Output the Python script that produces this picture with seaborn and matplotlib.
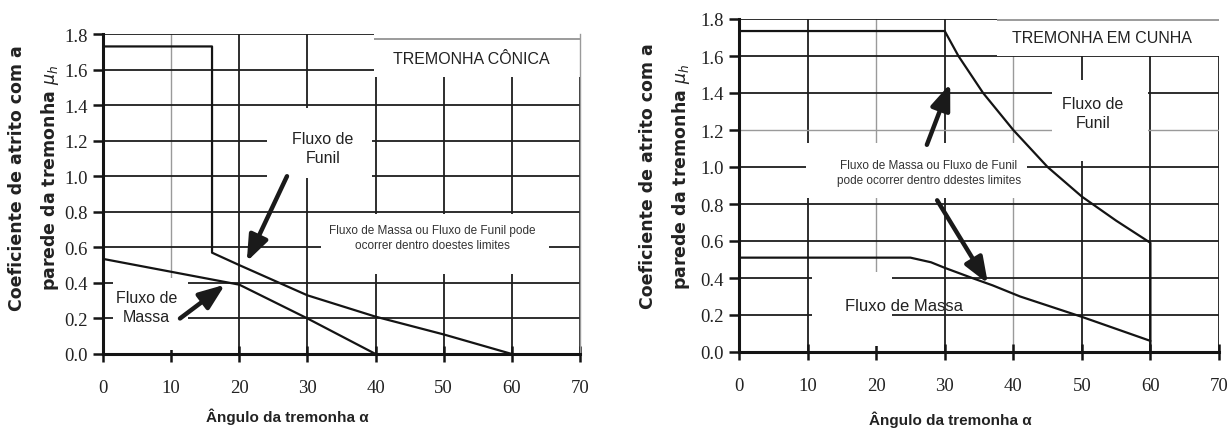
import matplotlib
matplotlib.use("Agg")
import matplotlib.pyplot as plt
from matplotlib.patches import Rectangle
import seaborn as sns
import numpy as np

# ---------------- data ----------------
x_ticks = [0, 10, 20, 30, 40, 50, 60, 70]
y_ticks = [0.0, 0.2, 0.4, 0.6, 0.8, 1.0, 1.2, 1.4, 1.6, 1.8]
y_ticklabels = ["0.0", "0.2", "0.4", "0.6", "0.8", "1.0", "1.2", "1.4", "1.6", "1.8"]

# Conical hopper (left)
con_funnel_x = [0, 16, 16, 20, 30, 40, 50, 60]
con_funnel_y = [1.73, 1.73, 0.57, 0.50, 0.33, 0.21, 0.11, 0.0]
con_mass_x = [0, 20, 30, 40]
con_mass_y = [0.535, 0.39, 0.20, 0.0]

# Wedge hopper (right)
wed_funnel_x = [0, 30, 32, 35.6, 40, 45, 50, 55, 60, 60]
wed_funnel_y = [1.735, 1.735, 1.60, 1.40, 1.20, 1.00, 0.84, 0.71, 0.59, 0.0]
wed_mass_x = [0, 25, 28, 30, 34, 37, 41, 50, 60]
wed_mass_y = [0.51, 0.51, 0.485, 0.455, 0.40, 0.36, 0.30, 0.19, 0.06]

ylabel_text = "Coeficiente de atrito com a\nparede da tremonha $\\mu_h$"
xlabel_text = "Ângulo da tremonha α"

# ---------------- style ----------------
sns.set_theme(style="white")
plt.rcParams["font.family"] = ["Liberation Sans", "DejaVu Sans"]
plt.rcParams["mathtext.fontset"] = "dejavusans"

fig = plt.figure(figsize=(12.3, 4.31), dpi=100)
axL = fig.add_axes([103 / 1230, (431 - 355) / 431, 477 / 1230, 320 / 431])
axR = fig.add_axes([739 / 1230, (431 - 353) / 431, 480 / 1230, 333 / 431])

INK = "#141414"
LIGHT = "#9a9a9a"


def base(ax, light_x=(), light_y=()):
    ax.set_xlim(0, 70)
    ax.set_ylim(0, 1.8)
    ax.set_xticks(x_ticks)
    ax.set_yticks(y_ticks)
    ax.set_yticklabels(y_ticklabels)
    ax.set_axisbelow(True)
    ax.grid(True, color="#1e1e1e", linewidth=1.3)
    for i, gl in enumerate(ax.get_xgridlines()):
        if i in light_x:
            gl.set_color(LIGHT)
            gl.set_linewidth(1.0)
    for i, gl in enumerate(ax.get_ygridlines()):
        if i in light_y:
            gl.set_color(LIGHT)
            gl.set_linewidth(1.0)
    for s in ["left", "bottom"]:
        ax.spines[s].set_visible(True)
        ax.spines[s].set_color(INK)
        ax.spines[s].set_linewidth(2.2)
    ax.spines["top"].set_visible(False)
    ax.spines["right"].set_visible(True)
    ax.spines["right"].set_color("#9a9a9a")
    ax.spines["right"].set_linewidth(1.0)
    ax.tick_params(axis="x", direction="inout", length=12, width=1.8, color=INK,
                   pad=12, labelsize=13.5, labelcolor="#222222",
                   labelfontfamily="Liberation Serif", bottom=True)
    ax.tick_params(axis="y", direction="out", length=7, width=1.8, color=INK,
                   pad=4, labelsize=13.5, labelcolor="#222222",
                   labelfontfamily="Liberation Serif", left=True)
    ax.set_ylabel(ylabel_text, fontsize=12.5, fontweight="bold",
                  family="DejaVu Sans", linespacing=1.8, color="#222222")
    ax.set_xlabel(xlabel_text, fontsize=11, fontweight="bold", color="#222222")


def mask(ax, x0, y0, x1, y1):
    ax.add_patch(Rectangle((x0, y0), x1 - x0, y1 - y0, facecolor="white",
                           edgecolor="none", zorder=1))


def curve(ax, xs, ys):
    sns.lineplot(x=xs, y=ys, ax=ax, sort=False, estimator=None,
                 color=INK, linewidth=1.6, zorder=3)


def arrow(ax, tail, tip):
    ax.annotate("", xy=tip, xytext=tail,
                arrowprops=dict(arrowstyle="-|>,head_length=1.3,head_width=0.5",
                                lw=3.2, color="#1a1a1a", facecolor="#333333",
                                shrinkA=0, shrinkB=0), zorder=5)


# ---------------- left: conical ----------------
base(axL, light_x=(1,))
mask(axL, 24, 0.99, 39.5, 1.385)
mask(axL, 39.7, 1.56, 70, 1.8)
mask(axL, 32, 0.45, 65.5, 0.785)
mask(axL, 1.5, 0.02, 12.5, 0.43)
axL.hlines(1.77, 39.7, 70, color="#8a8a8a", linewidth=1.2, zorder=2)

curve(axL, con_funnel_x, con_funnel_y)
curve(axL, con_mass_x, con_mass_y)

axL.text(54.0, 1.665, "TREMONHA CÔNICA", ha="center", va="center",
         fontsize=11.5, color="#222222", zorder=4)
axL.text(32.3, 1.16, "Fluxo de\nFunil", ha="center", va="center",
         fontsize=11.5, color="#222222", linespacing=1.35, zorder=4)
axL.text(48.3, 0.655, "Fluxo de Massa ou Fluxo de Funil pode\nocorrer dentro doestes limites",
         ha="center", va="center", fontsize=8.5, color="#333333",
         linespacing=1.35, zorder=4)
axL.text(6.4, 0.265, "Fluxo de\nMassa", ha="center", va="center",
         fontsize=11.5, color="#222222", linespacing=1.3, zorder=4)
arrow(axL, (27.0, 1.0), (21.1, 0.52))
arrow(axL, (11.3, 0.2), (17.9, 0.39))

axL.yaxis.set_label_coords(-0.088, 0.553)
axL.xaxis.set_label_coords(0.386, -0.166)

# ---------------- right: wedge ----------------
base(axR, light_x=(2, 4), light_y=(6,))
axR.spines["right"].set_visible(False)
mask(axR, 37.6, 1.6, 70, 1.8)
mask(axR, 45.6, 1.03, 59.6, 1.47)
mask(axR, 9.8, 0.83, 42, 1.13)
mask(axR, 10.6, 0.03, 22.3, 0.43)
axR.hlines(1.795, 37.6, 70, color="#8a8a8a", linewidth=1.2, zorder=2,
           clip_on=False)

curve(axR, wed_funnel_x, wed_funnel_y)
curve(axR, wed_mass_x, wed_mass_y)

axR.text(52.9, 1.70, "TREMONHA EM CUNHA", ha="center", va="center",
         fontsize=11.5, color="#222222", zorder=4)
axR.text(51.6, 1.29, "Fluxo de\nFunil", ha="center", va="center",
         fontsize=11.5, color="#222222", linespacing=1.35, zorder=4)
axR.text(27.7, 0.97, "Fluxo de Massa ou Fluxo de Funil\npode ocorrer dentro ddestes limites",
         ha="center", va="center", fontsize=8.5, color="#333333",
         linespacing=1.35, zorder=4)
axR.text(24.0, 0.25, "Fluxo de Massa", ha="center", va="center",
         fontsize=12, color="#222222", zorder=4)
arrow(axR, (27.4, 1.12), (30.8, 1.45))
arrow(axR, (28.9, 0.82), (36.3, 0.37))

axR.yaxis.set_label_coords(-0.098, 0.53)
axR.xaxis.set_label_coords(0.44, -0.177)

fig.savefig("out.png", dpi=100, facecolor="white")
